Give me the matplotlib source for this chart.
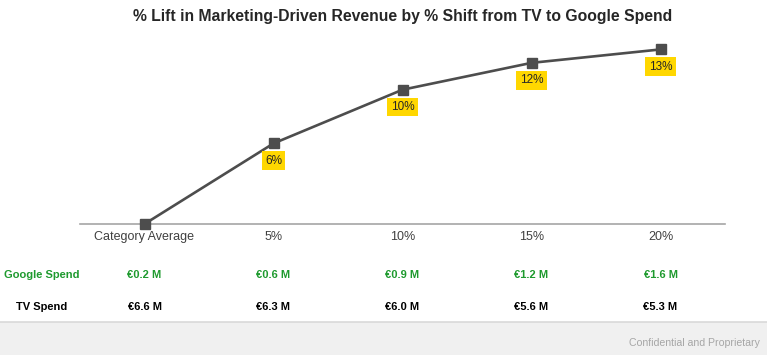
import matplotlib
matplotlib.use("Agg")
import matplotlib.pyplot as plt
from matplotlib.patches import Rectangle

categories = ["Category Average", "5%", "10%", "15%", "20%"]
lift = [0.0, 6.0, 10.0, 12.0, 13.0]
lift_labels = [None, "6%", "10%", "12%", "13%"]
google_spend = ["€0.2 M", "€0.6 M", "€0.9 M", "€1.2 M", "€1.6 M"]
tv_spend = ["€6.6 M", "€6.3 M", "€6.0 M", "€5.6 M", "€5.3 M"]

plt.rcParams['font.family'] = ['Liberation Sans', 'DejaVu Sans']

W, H = 767, 355
fig = plt.figure(figsize=(W/100, H/100), dpi=100)
fig.patch.set_facecolor('white')

# footer band
fig.add_artist(Rectangle((0, 0), 1, 33/H, transform=fig.transFigure,
                         facecolor='#f0f0f0', edgecolor='none', zorder=0))
fig.add_artist(plt.Line2D([0, 1], [33/H, 33/H], transform=fig.transFigure,
                          color='#d9d9d9', lw=1.2))
fig.text(760/W, 1-343/H, "Confidential and Proprietary", ha='right', va='center',
         fontsize=7.6, color='#a6a6a6')

ax = fig.add_axes([80/W, 1-224/H, 645/W, 188/H])
x = list(range(len(categories)))
ax.plot(x, lift, color='#4d4d4d', lw=1.9, marker='s', markersize=6.5,
        markerfacecolor='#4d4d4d', markeredgecolor='#4d4d4d', clip_on=False, zorder=3)
for xi, yi, lab in zip(x, lift, lift_labels):
    if lab:
        ax.annotate(lab, (xi, yi), xytext=(0, -12.5), textcoords='offset points',
                    ha='center', va='center', fontsize=8.5, color='#262626',
                    bbox=dict(boxstyle='square,pad=0.28', facecolor='#ffd700', edgecolor='none'),
                    zorder=4)
ax.set_xlim(-0.5, len(categories)-0.5)
ax.set_ylim(0, 14)
for s in ['top', 'right', 'left']:
    ax.spines[s].set_visible(False)
ax.spines['bottom'].set_color('#a6a6a6')
ax.spines['bottom'].set_linewidth(1.2)
ax.set_yticks([])
ax.set_xticks(x)
ax.set_xticklabels(categories, fontsize=9, color='#404040')
ax.tick_params(axis='x', length=0, pad=5)

fig.text(403/W, 1-17/H, "% Lift in Marketing-Driven Revenue by % Shift from TV to Google Spend",
         ha='center', va='center', fontsize=11.3, fontweight='bold', color='#262626')

green = '#1e9a2e'
fig.text(42/W, 1-275/H, "Google Spend", ha='center', va='center', fontsize=8,
         fontweight='bold', color=green)
fig.text(42/W, 1-307/H, "TV Spend", ha='center', va='center', fontsize=8,
         fontweight='bold', color='black')
trans = ax.get_xaxis_transform()
for xi, g, t in zip(x, google_spend, tv_spend):
    ax.text(xi, -(275-224)/188, g, transform=trans, ha='center', va='center',
            fontsize=8, fontweight='bold', color=green)
    ax.text(xi, -(307-224)/188, t, transform=trans, ha='center', va='center',
            fontsize=8, fontweight='bold', color='black')

fig.savefig("out.png", dpi=100)
